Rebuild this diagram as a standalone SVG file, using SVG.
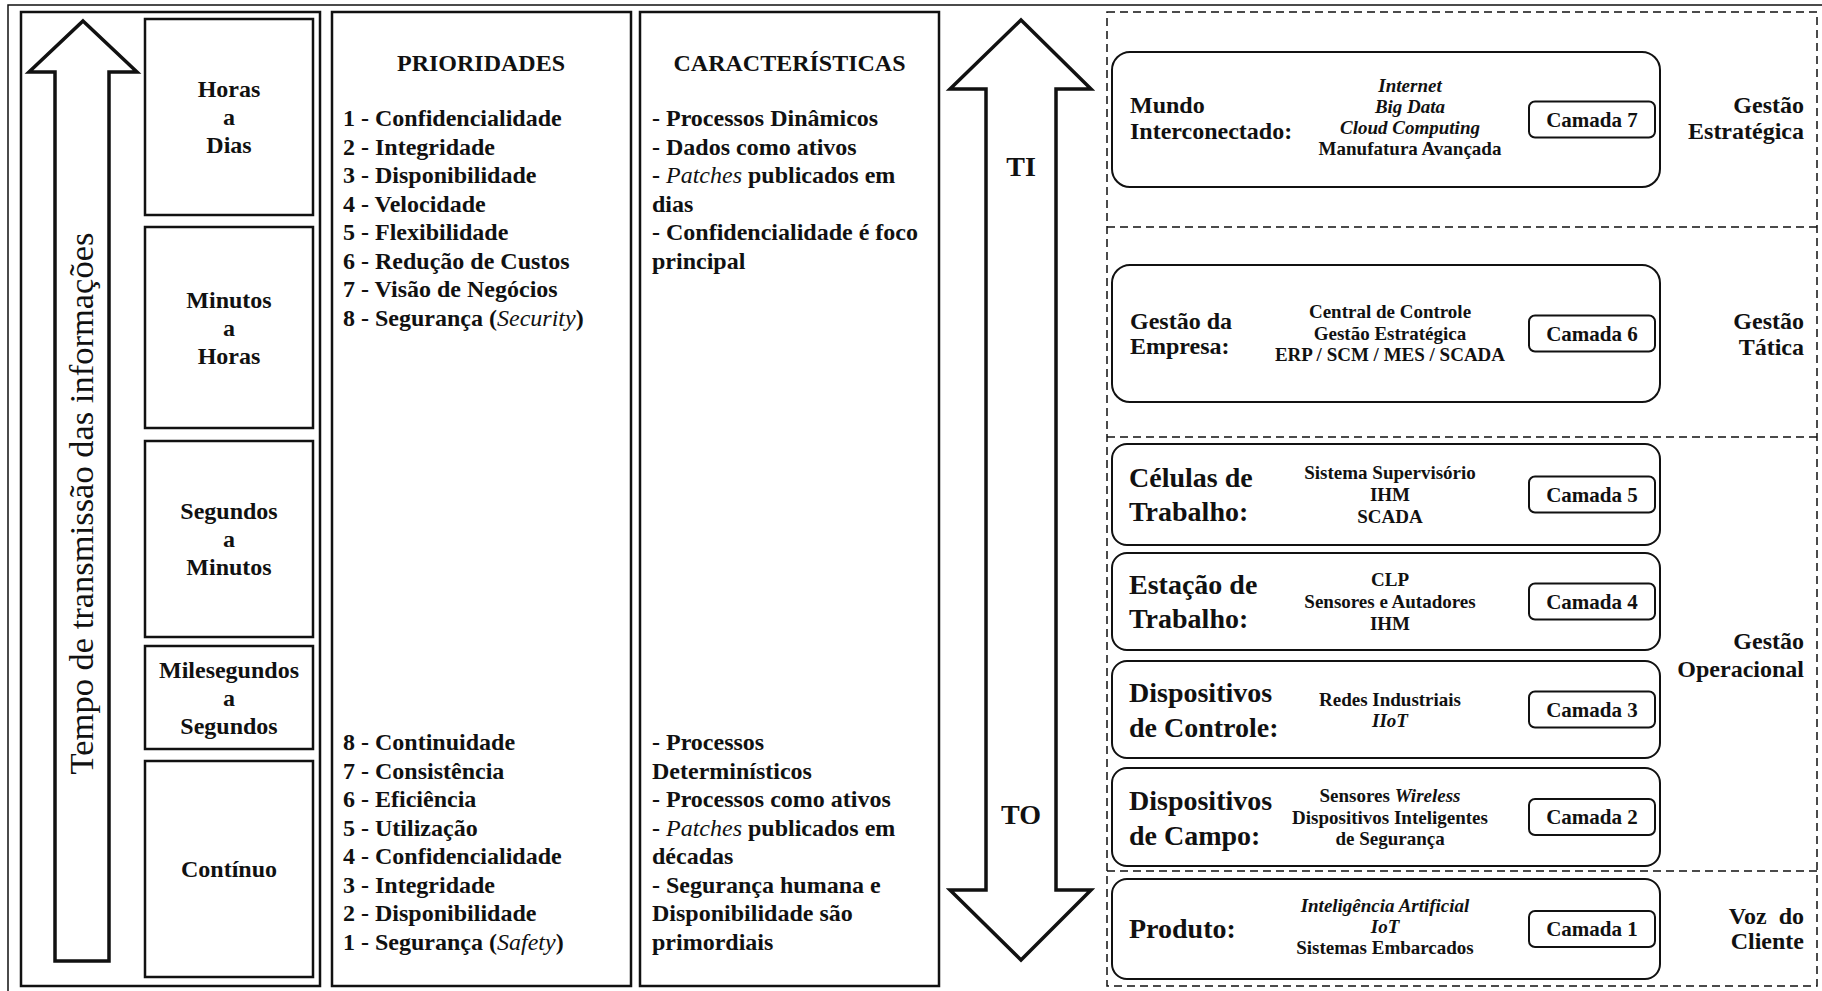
<svg xmlns="http://www.w3.org/2000/svg" width="1822" height="991" viewBox="0 0 1822 991">
<style>
text{font-family:"Liberation Serif","Times New Roman",serif;fill:#111}
.panel{fill:#fff;stroke:#111;stroke-width:2.5}
.tbox{fill:#fff;stroke:#111;stroke-width:2.5}
.layer{fill:#fff;stroke:#111;stroke-width:2}
.camada{fill:#fff;stroke:#111;stroke-width:2}
.dash{fill:none;stroke:#111;stroke-width:1.5;stroke-dasharray:8 5}
.arrow{fill:#fff;stroke:#111;stroke-width:3.5;stroke-linejoin:miter}
.b24{font-size:24px;font-weight:bold}
.ctr{text-anchor:middle}
.mid{font-size:19px;font-weight:bold;text-anchor:middle}
.lab{font-size:28px;font-weight:bold}
.lab2{font-size:24px;font-weight:bold}
.cam{font-size:21px;font-weight:bold;text-anchor:middle}
.rl{font-size:24px;font-weight:bold;text-anchor:end}
.it{font-style:italic;font-weight:normal}
.bi{font-style:italic}
</style>
<rect width="1822" height="991" fill="#fff"/>
<path d="M8,991 V5 H1822" fill="none" stroke="#111" stroke-width="1.5"/>

<g id="left-panel">
<rect class="panel" x="21" y="12" width="299" height="974"/>
</g>

<g id="tempo-horas-dias">
<rect class="tbox" x="145" y="19" width="168" height="196"/>
<text class="b24 ctr" x="229" y="97">Horas</text>
<text class="b24 ctr" x="229" y="125">a</text>
<text class="b24 ctr" x="229" y="153">Dias</text>
</g>
<g id="tempo-minutos-horas">
<rect class="tbox" x="145" y="227" width="168" height="201"/>
<text class="b24 ctr" x="229" y="308">Minutos</text>
<text class="b24 ctr" x="229" y="336">a</text>
<text class="b24 ctr" x="229" y="364">Horas</text>
</g>
<g id="tempo-segundos-minutos">
<rect class="tbox" x="145" y="441" width="168" height="196"/>
<text class="b24 ctr" x="229" y="519">Segundos</text>
<text class="b24 ctr" x="229" y="547">a</text>
<text class="b24 ctr" x="229" y="575">Minutos</text>
</g>
<g id="tempo-milesegundos-segundos">
<rect class="tbox" x="145" y="646" width="168" height="103"/>
<text class="b24 ctr" x="229" y="678">Milesegundos</text>
<text class="b24 ctr" x="229" y="706">a</text>
<text class="b24 ctr" x="229" y="734">Segundos</text>
</g>
<g id="tempo-continuo">
<rect class="tbox" x="145" y="761" width="168" height="216"/>
<text class="b24 ctr" x="229" y="877">Contínuo</text>
</g>

<g id="prioridades">
<rect class="panel" x="332" y="12" width="299" height="974"/>
<text class="b24 ctr" x="481" y="71">PRIORIDADES</text>
<g class="b24">
<text x="343" y="126">1 - Confidencialidade</text>
<text x="343" y="154.5">2 - Integridade</text>
<text x="343" y="183">3 - Disponibilidade</text>
<text x="343" y="211.5">4 - Velocidade</text>
<text x="343" y="240">5 - Flexibilidade</text>
<text x="343" y="268.5">6 - Redução de Custos</text>
<text x="343" y="297">7 - Visão de Negócios</text>
<text x="343" y="325.5">8 - Segurança (<tspan class="it">Security</tspan>)</text>
<text x="343" y="750">8 - Continuidade</text>
<text x="343" y="778.5">7 - Consistência</text>
<text x="343" y="807">6 - Eficiência</text>
<text x="343" y="835.5">5 - Utilização</text>
<text x="343" y="864">4 - Confidencialidade</text>
<text x="343" y="892.5">3 - Integridade</text>
<text x="343" y="921">2 - Disponibilidade</text>
<text x="343" y="949.5">1 - Segurança (<tspan class="it">Safety</tspan>)</text>
</g>
</g>

<g id="caracteristicas">
<rect class="panel" x="640" y="12" width="299" height="974"/>
<text class="b24 ctr" x="789.5" y="71">CARACTERÍSTICAS</text>
<g class="b24">
<text x="652" y="126">- Processos Dinâmicos</text>
<text x="652" y="154.5">- Dados como ativos</text>
<text x="652" y="183">- <tspan class="it">Patches</tspan> publicados em</text>
<text x="652" y="211.5">dias</text>
<text x="652" y="240">- Confidencialidade é foco</text>
<text x="652" y="268.5">principal</text>
<text x="652" y="750">- Processos</text>
<text x="652" y="778.5">Determinísticos</text>
<text x="652" y="807">- Processos como ativos</text>
<text x="652" y="835.5">- <tspan class="it">Patches</tspan> publicados em</text>
<text x="652" y="864">décadas</text>
<text x="652" y="892.5">- Segurança humana e</text>
<text x="652" y="921">Disponibilidade são</text>
<text x="652" y="949.5">primordiais</text>
</g>
</g>

<g id="connectors">
<path class="arrow" d="M83,21 L137,72 L109,72 L109,961 L55,961 L55,72 L29,72 Z"/>
<path class="arrow" d="M1021,20 L1091,89 L1056,89 L1056,890 L1091,890 L1021,960 L950,890 L986,890 L986,89 L950,89 Z"/>
</g>
<g id="arrow-labels">
<text transform="translate(93,503.5) rotate(-90)" class="ctr" font-size="34.5">Tempo de transmissão das informações</text>
<text class="ctr" x="1021" y="176" font-size="28" font-weight="bold">TI</text>
<text class="ctr" x="1021" y="824" font-size="28" font-weight="bold">TO</text>
</g>

<g id="niveis">
<rect class="dash" x="1107" y="12" width="710" height="974"/>
<line class="dash" x1="1107" y1="227" x2="1817" y2="227"/>
<line class="dash" x1="1107" y1="437" x2="1817" y2="437"/>
<line class="dash" x1="1107" y1="871" x2="1817" y2="871"/>
<text class="rl" x="1804" y="113">Gestão</text>
<text class="rl" x="1804" y="139">Estratégica</text>
<text class="rl" x="1804" y="329">Gestão</text>
<text class="rl" x="1804" y="355">Tática</text>
<text class="rl" x="1804" y="649">Gestão</text>
<text class="rl" x="1804" y="677">Operacional</text>
<text class="rl" x="1804" y="924" xml:space="preserve">Voz  do</text>
<text class="rl" x="1804" y="949">Cliente</text>
</g>

<g id="camada-7">
<rect class="layer" x="1112" y="52" width="548" height="135" rx="18"/>
<text class="lab2" x="1130" y="113">Mundo</text>
<text class="lab2" x="1130" y="139">Interconectado:</text>
<text class="mid bi" x="1410" y="92">Internet</text>
<text class="mid bi" x="1410" y="113">Big Data</text>
<text class="mid bi" x="1410" y="134">Cloud Computing</text>
<text class="mid" x="1410" y="155">Manufatura Avançada</text>
<rect class="camada" x="1529" y="101.5" width="126" height="36" rx="6"/>
<text class="cam" x="1592" y="126.5">Camada 7</text>
</g>

<g id="camada-6">
<rect class="layer" x="1112" y="265" width="548" height="137" rx="18"/>
<text class="lab2" x="1130" y="329">Gestão da</text>
<text class="lab2" x="1130" y="354">Empresa:</text>
<text class="mid" x="1390" y="318">Central de Controle</text>
<text class="mid" x="1390" y="339.5">Gestão Estratégica</text>
<text class="mid" x="1390" y="361">ERP / SCM / MES / SCADA</text>
<rect class="camada" x="1529" y="315.5" width="126" height="36" rx="6"/>
<text class="cam" x="1592" y="340.5">Camada 6</text>
</g>

<g id="camada-5">
<rect class="layer" x="1112" y="444" width="548" height="101" rx="15"/>
<text class="lab" x="1129" y="487">Células de</text>
<text class="lab" x="1129" y="521">Trabalho:</text>
<text class="mid" x="1390" y="479">Sistema Supervisório</text>
<text class="mid" x="1390" y="501">IHM</text>
<text class="mid" x="1390" y="523">SCADA</text>
<rect class="camada" x="1529" y="476.5" width="126" height="36" rx="6"/>
<text class="cam" x="1592" y="501.5">Camada 5</text>
</g>

<g id="camada-4">
<rect class="layer" x="1112" y="553" width="548" height="97" rx="15"/>
<text class="lab" x="1129" y="594">Estação de</text>
<text class="lab" x="1129" y="628">Trabalho:</text>
<text class="mid" x="1390" y="586">CLP</text>
<text class="mid" x="1390" y="608">Sensores e Autadores</text>
<text class="mid" x="1390" y="630">IHM</text>
<rect class="camada" x="1529" y="583.5" width="126" height="36" rx="6"/>
<text class="cam" x="1592" y="608.5">Camada 4</text>
</g>

<g id="camada-3">
<rect class="layer" x="1112" y="661" width="548" height="97" rx="15"/>
<text class="lab" x="1129" y="702">Dispositivos</text>
<text class="lab" x="1129" y="737">de Controle:</text>
<text class="mid" x="1390" y="706">Redes Industriais</text>
<text class="mid bi" x="1390" y="727">IIoT</text>
<rect class="camada" x="1529" y="691.5" width="126" height="36" rx="6"/>
<text class="cam" x="1592" y="716.5">Camada 3</text>
</g>

<g id="camada-2">
<rect class="layer" x="1112" y="768" width="548" height="98" rx="15"/>
<text class="lab" x="1129" y="810">Dispositivos</text>
<text class="lab" x="1129" y="845">de Campo:</text>
<text class="mid" x="1390" y="802">Sensores <tspan font-style="italic">Wireless</tspan></text>
<text class="mid" x="1390" y="823.5">Dispositivos Inteligentes</text>
<text class="mid" x="1390" y="845">de Segurança</text>
<rect class="camada" x="1529" y="799" width="126" height="36" rx="6"/>
<text class="cam" x="1592" y="824">Camada 2</text>
</g>

<g id="camada-1">
<rect class="layer" x="1112" y="879" width="548" height="100" rx="15"/>
<text class="lab" x="1129" y="938">Produto:</text>
<text class="mid bi" x="1385" y="912">Inteligência Artificial</text>
<text class="mid bi" x="1385" y="933">IoT</text>
<text class="mid" x="1385" y="954">Sistemas Embarcados</text>
<rect class="camada" x="1529" y="911" width="126" height="36" rx="6"/>
<text class="cam" x="1592" y="936">Camada 1</text>
</g>
</svg>
